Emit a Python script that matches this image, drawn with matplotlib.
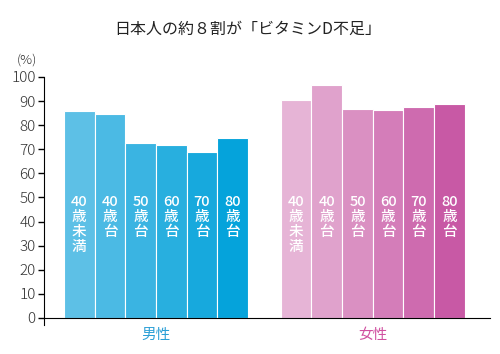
import numpy as np
import matplotlib
matplotlib.use('Agg')
import matplotlib.pyplot as plt
from matplotlib.colors import to_rgb

plt.rcParams['font.family'] = ['Noto Sans CJK JP', 'DejaVu Sans']

age_labels = ['40\n歳\n未\n満', '40\n歳\n台', '50\n歳\n台', '60\n歳\n台', '70\n歳\n台', '80\n歳\n台']
male = [86.0, 84.5, 72.7, 71.9, 69.0, 74.5]
female = [90.6, 96.8, 86.8, 86.4, 87.6, 88.9]
groups = ['男性', '女性']
yticks = list(range(0, 101, 10))


def ramp(c0, c1, n):
    a, b = np.array(to_rgb(c0)), np.array(to_rgb(c1))
    return [tuple(a + (b - a) * t) for t in np.linspace(0, 1, n)]


male_colors = ramp('#5dc0e6', '#05a3db', len(male))
female_colors = ramp('#e6b4d6', '#c859a5', len(female))

fig = plt.figure(figsize=(5, 3.54), dpi=100)
ax = fig.add_axes([0.088, 0.0814, 0.892, 0.7011])

n = len(male)
xm = np.arange(n)
xf = np.arange(n) + n + 1.07

ax.bar(xm, male, width=1.0, color=male_colors, edgecolor='white', linewidth=0.8)
ax.bar(xf, female, width=1.0, color=female_colors, edgecolor='white', linewidth=0.8)

# vertical labels inside the bars, one character per line
for xs in (xm, xf):
    for x, lab in zip(xs, age_labels):
        for k, line in enumerate(lab.split('\n')):
            ax.annotate(line, (x, 48), xytext=(0, -15 * k), textcoords='offset pixels',
                        ha='center', va='center', color='white', fontsize=10.5,
                        fontweight='medium')

ax.set_xlim(-1.15, xf[-1] + 1.32)
ax.set_ylim(-3, 100)
ax.spines['top'].set_visible(False)
ax.spines['right'].set_visible(False)
ax.spines['bottom'].set_position(('data', 0))
ax.spines['left'].set_bounds(-3, 100)
ax.set_xticks([])
ax.set_yticks(yticks)
ax.tick_params(axis='y', length=4, width=1, labelsize=11, labelcolor='#333333', pad=2)
for lbl in ax.get_yticklabels():
    lbl.set_fontweight('light')

ax.text(xm.mean(), -7, groups[0], ha='center', va='center', color='#2a9fd6', fontsize=10.5)
ax.text(xf.mean(), -7, groups[1], ha='center', va='center', color='#d050a0', fontsize=10.5)

fig.text(0.054, 0.83, '(%)', ha='center', va='center', color='#333333', fontsize=9.5, fontweight='light')
fig.text(0.496, 0.918, '日本人の約８割が「ビタミンD不足」', ha='center', va='center', color='#222222', fontsize=11.5)

fig.savefig('out.png', dpi=100)
